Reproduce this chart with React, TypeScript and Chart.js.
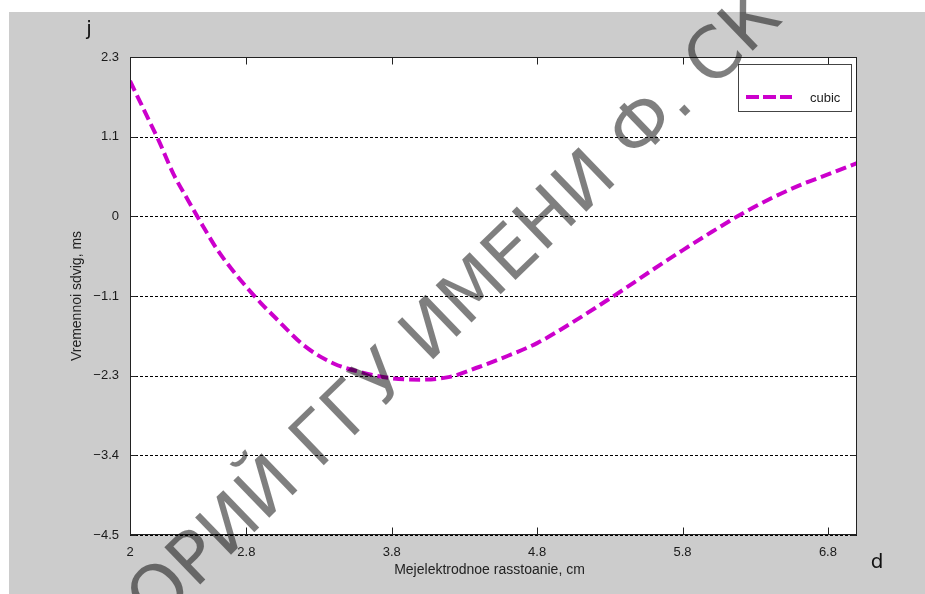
import React, { useEffect, useRef } from "react";
import { Chart, registerables } from "chart.js";

Chart.register(...registerables);

// Inter-electrode distance, cm
const distanceCm = [
  2.0, 2.1, 2.2, 2.3, 2.4, 2.5, 2.6, 2.7, 2.8, 2.9, 3.0, 3.2, 3.4, 3.6, 3.8, 4.0,
  4.2, 4.4, 4.6, 4.8, 5.0, 5.2, 5.4, 5.6, 5.8, 6.0, 6.2, 6.4, 6.6, 6.8, 7.0,
];
// Time shift, ms (cubic fit)
const timeShiftMs = [
  1.96, 1.53, 1.1, 0.63, 0.26, -0.1, -0.44, -0.72, -0.97, -1.2, -1.41, -1.81, -2.06, -2.19,
  -2.27, -2.29, -2.25, -2.11, -1.95, -1.77, -1.53, -1.27, -1.0, -0.72, -0.45, -0.19, 0.06,
  0.28, 0.47, 0.63, 0.79,
];

const xTickValues = [2, 2.8, 3.8, 4.8, 5.8, 6.8];
const yTickLabels = ["2.3", "1.1", "0", "\u22121.1", "\u22122.3", "\u22123.4", "\u22124.5"];

const seriesLabel = "cubic";
const xTitle = "Mejelektrodnoe rasstoanie, cm";
const yTitle = "Vremennoi sdvig, ms";
const xCornerLabel = "d";
const yCornerLabel = "j";
const watermarkText = "ОРИЙ ГГУ ИМЕНИ Ф. СК";

const X_MIN = 2;
const X_MAX = 7;
const Y_MIN = -4.5;
const Y_MAX = 2.3;

const LINE_COLOR = "#cc00cc";
const LINE_DASH = [11, 5];
const TEXT_FONT = "'Liberation Sans', Arial, sans-serif";

const framePlugin = {
  id: "frame",
  beforeDraw(chart: any) {
    const { ctx, chartArea: a } = chart;
    ctx.save();
    ctx.fillStyle = "#ffffff";
    ctx.fillRect(0, 0, chart.width, chart.height);
    ctx.fillStyle = "#cccccc";
    ctx.fillRect(9, 12, chart.width - 9, chart.height - 12);
    ctx.fillStyle = "#ffffff";
    ctx.fillRect(a.left, a.top, a.right - a.left, a.bottom - a.top);
    ctx.restore();
  },
  beforeDatasetsDraw(chart: any) {
    const { ctx, chartArea: a, scales } = chart;
    ctx.save();
    ctx.strokeStyle = "#000000";
    ctx.lineWidth = 1;
    ctx.setLineDash([3, 2]);
    for (const t of scales.y.ticks) {
      const y = Math.round(scales.y.getPixelForValue(t.value)) + 0.5;
      ctx.beginPath();
      ctx.moveTo(a.left, y);
      ctx.lineTo(a.right, y);
      ctx.stroke();
    }
    ctx.restore();
  },
  afterDatasetsDraw(chart: any) {
    const { ctx, chartArea: a, scales } = chart;
    const L = Math.round(a.left) + 0.5;
    const R = Math.round(a.right) - 0.5;
    const T = Math.round(a.top) + 0.5;
    const B = Math.round(a.bottom) - 0.5;
    ctx.save();
    // plot border
    ctx.strokeStyle = "#222222";
    ctx.lineWidth = 1;
    ctx.strokeRect(L, T, R - L, B - T);
    // inward tick marks
    ctx.beginPath();
    for (const t of scales.x.ticks) {
      const x = Math.round(scales.x.getPixelForValue(t.value)) + 0.5;
      ctx.moveTo(x, B);
      ctx.lineTo(x, B - 7);
      ctx.moveTo(x, T);
      ctx.lineTo(x, T + 7);
    }
    for (const t of scales.y.ticks) {
      const y = Math.round(scales.y.getPixelForValue(t.value)) + 0.5;
      ctx.moveTo(L, y);
      ctx.lineTo(L + 6, y);
      ctx.moveTo(R, y);
      ctx.lineTo(R - 6, y);
    }
    ctx.stroke();

    // legend box
    const lx = 738, ly = 64, lw = 113, lh = 47;
    ctx.fillStyle = "#ffffff";
    ctx.fillRect(lx, ly, lw, lh);
    ctx.strokeStyle = "#444444";
    ctx.strokeRect(lx + 0.5, ly + 0.5, lw, lh);
    const ds = chart.data.datasets[0];
    ctx.strokeStyle = ds.borderColor;
    ctx.lineWidth = ds.borderWidth;
    ctx.setLineDash([13, 4]);
    ctx.beginPath();
    ctx.moveTo(746, 97);
    ctx.lineTo(792, 97);
    ctx.stroke();
    ctx.setLineDash([]);
    ctx.fillStyle = "#222222";
    ctx.font = `13px ${TEXT_FONT}`;
    ctx.textAlign = "left";
    ctx.textBaseline = "middle";
    ctx.fillText(ds.label, 810, 98);

    // axis titles
    ctx.font = `14px ${TEXT_FONT}`;
    ctx.textAlign = "center";
    ctx.textBaseline = "middle";
    ctx.fillText(xTitle, (a.left + a.right) / 2 - 4, 570);
    ctx.save();
    ctx.translate(77, (a.top + a.bottom) / 2);
    ctx.rotate(-Math.PI / 2);
    ctx.fillText(yTitle, 0, 0);
    ctx.restore();

    // corner variable names
    ctx.fillStyle = "#111111";
    ctx.font = `20px 'DejaVu Sans', sans-serif`;
    ctx.fillText(yCornerLabel, 89, 30);
    ctx.fillText(xCornerLabel, 877, 563);
    ctx.restore();
  },
  afterDraw(chart: any) {
    const { ctx } = chart;
    ctx.save();
    ctx.translate(155, 628);
    ctx.rotate((-44 * Math.PI) / 180);
    ctx.font = `71px 'DejaVu Sans', sans-serif`;
    ctx.fillStyle = "rgba(0,0,0,0.5)";
    ctx.textAlign = "left";
    ctx.textBaseline = "alphabetic";
    ctx.fillText(watermarkText, 0, 0);
    ctx.restore();
  },
};

export default function App() {
  const canvasRef = useRef<HTMLCanvasElement | null>(null);

  useEffect(() => {
    const canvas = canvasRef.current;
    if (!canvas) return;
    const chart = new Chart(canvas, {
      type: "line",
      data: {
        datasets: [
          {
            label: seriesLabel,
            data: distanceCm.map((x, i) => ({ x, y: timeShiftMs[i] })),
            borderColor: LINE_COLOR,
            borderWidth: 4,
            borderDash: LINE_DASH,
            pointRadius: 0,
            fill: false,
            cubicInterpolationMode: "monotone",
          },
        ],
      },
      options: {
        animation: false,
        responsive: false,
        events: [],
        layout: { padding: { top: 57, right: 68, left: 0, bottom: 0 } },
        plugins: { legend: { display: false }, tooltip: { enabled: false } },
        scales: {
          x: {
            type: "linear",
            min: X_MIN,
            max: X_MAX,
            grid: { display: false, drawTicks: false },
            border: { display: false },
            afterBuildTicks: (s: any) => {
              s.ticks = xTickValues.map((v) => ({ value: v }));
            },
            afterFit: (s: any) => {
              s.height = 59;
            },
            ticks: {
              autoSkip: false,
              maxRotation: 0,
              padding: 10,
              color: "#1a1a1a",
              font: { family: TEXT_FONT, size: 13 },
              callback: (v: any) => String(v),
            },
          },
          y: {
            type: "linear",
            min: Y_MIN,
            max: Y_MAX,
            grid: { display: false, drawTicks: false },
            border: { display: false },
            afterBuildTicks: (s: any) => {
              const n = yTickLabels.length - 1;
              s.ticks = yTickLabels.map((_, i) => ({ value: Y_MAX - (i * (Y_MAX - Y_MIN)) / n }));
            },
            afterFit: (s: any) => {
              s.width = 130;
            },
            ticks: {
              autoSkip: false,
              padding: 11,
              color: "#1a1a1a",
              font: { family: TEXT_FONT, size: 13 },
              callback: (_v: any, i: number) => yTickLabels[i],
            },
          },
        },
      },
      plugins: [framePlugin],
    });
    return () => chart.destroy();
  }, []);

  return (
    <canvas
      ref={canvasRef}
      width={925}
      height={594}
      style={{ position: "fixed", left: 0, top: 0, display: "block" }}
    />
  );
}
